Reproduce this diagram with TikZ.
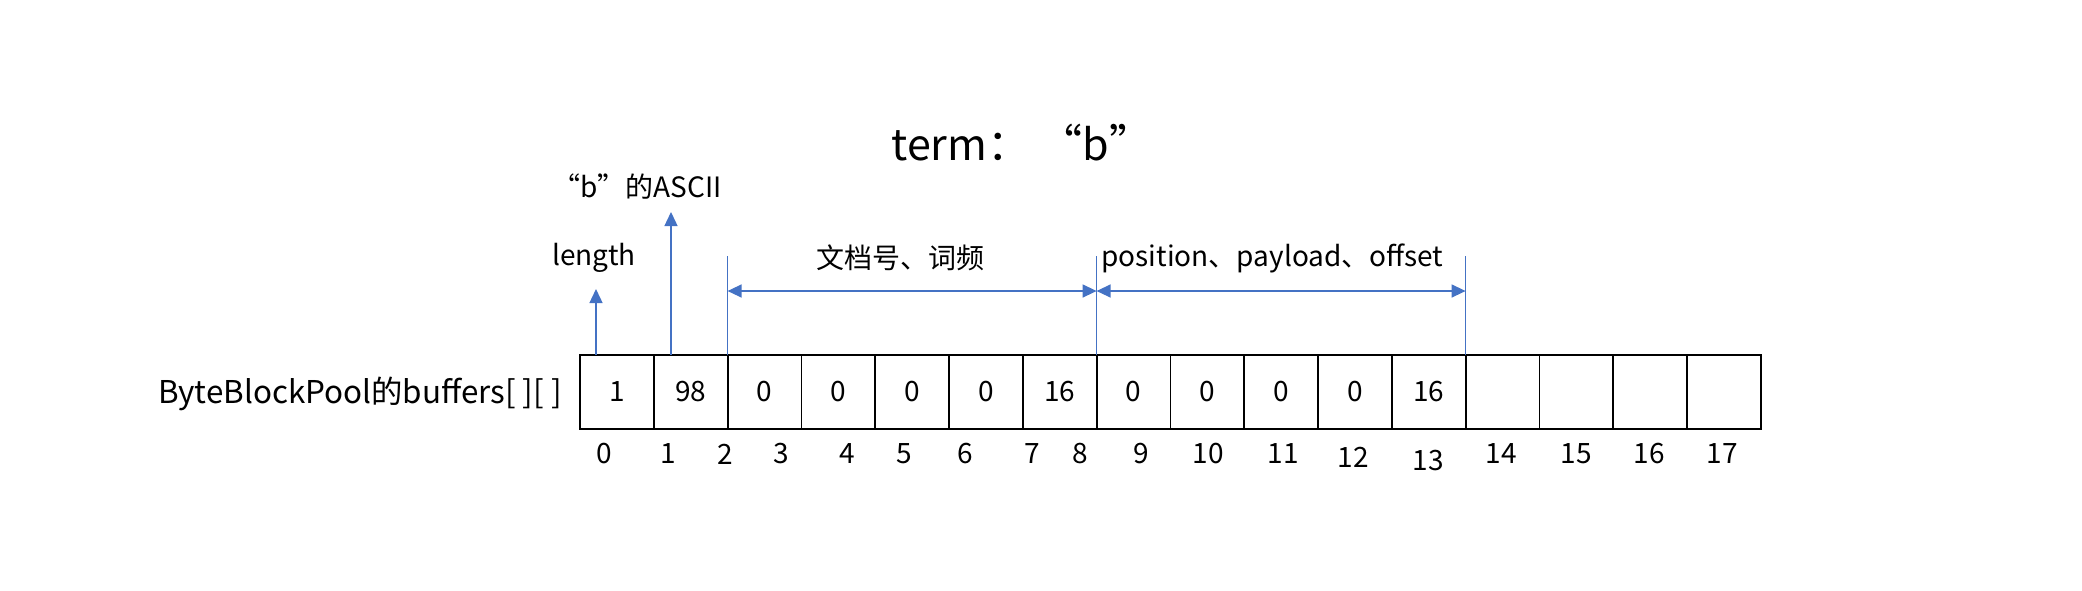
\documentclass[tikz,border=0pt]{standalone}
\usepackage{fontspec}
\setmainfont{Noto Sans CJK SC}
\usetikzlibrary{arrows.meta,positioning}
\definecolor{lineblue}{HTML}{4472C4}

\begin{document}
\begin{tikzpicture}[
        x=0.5pt, y=-0.5pt,
        cell/.style={rectangle, draw, line width=0.9pt, minimum width=36.9pt, minimum height=37pt, inner sep=0pt, outer sep=0pt, font=\fontsize{14}{16}\selectfont},
        idx/.style={inner sep=0pt, font=\fontsize{14}{16}\selectfont},
        lbl/.style={inner sep=0pt, font=\fontsize{14}{16}\selectfont},
        arrow/.style={-{Triangle[length=7pt,width=6.5pt]}, lineblue, line width=0.7pt},
        dimline/.style={{Triangle[length=7pt,width=6.5pt]}-{Triangle[length=7pt,width=6.5pt]}, lineblue, line width=0.7pt},
        guide/.style={lineblue, line width=0.7pt}
    ]
        \useasboundingbox (0,0) rectangle (2082,590);

        % Title
        \node[inner sep=0pt, font=\fontsize{21.5}{24}\selectfont] (title) at (1022,143) {term： “b”};

        % Array
        \node[lbl, font=\fontsize{15.7}{18}\selectfont] (pool) at (360,394) {ByteBlockPool的buffers[ ][ ]};
        \node[cell] (c0) at (616.9,392) {1};
        \foreach \v [count=\i] in {98,0,0,0,0,16,0,0,0,0,16,{},{},{},{}} {
            \pgfmathtruncatemacro\prev{\i-1}
            \node[cell, right=0pt of c\prev] (c\i) {\v};
        }

        % Index labels
        \foreach \n/\x/\y in {0/604/454, 1/668/454, 2/725/454, 3/781/454, 4/847/454, 5/904/454,
                              6/965/454, 7/1032/454, 8/1080/454, 9/1141/454, 10/1208/454, 11/1283/454,
                              12/1353/457, 13/1428/461, 14/1501/454, 15/1576/454, 16/1649/454, 17/1722/454} {
            \node[idx] (i\n) at (\x,\y) {\n};
        }

        % Labels
        \node[lbl] (length) at (594,258) {length};
        \node[lbl] (ascii) at (637,187) {“b”的ASCII};
        \node[lbl] (docfreq) at (900,258) {文档号、词频};
        \node[lbl, anchor=west] (posinfo) at (1101,258) {position、payload、offset};

        % Arrows
        \coordinate (lenbase) at (596,355);
        \coordinate (lentip) at (596,289);
        \coordinate (asciibase) at (671,355);
        \coordinate (asciitip) at (671,212);
        \draw[arrow] (lenbase) -- (lentip);
        \draw[arrow] (asciibase) -- (asciitip);

        % Ranges
        \coordinate (g2) at (c2.north west |- 0,256);
        \coordinate (g7) at (c7.north west |- 0,256);
        \coordinate (g12) at (c12.north west |- 0,256);
        \draw[guide] (c2.north west) -- (g2);
        \draw[guide] (c7.north west) -- (g7);
        \draw[guide] (c12.north west) -- (g12);
        \draw[dimline] (c2.north west |- 0,291) -- (c7.north west |- 0,291);
        \draw[dimline] (c7.north west |- 0,291) -- (c12.north west |- 0,291);
    \end{tikzpicture}
\end{document}
